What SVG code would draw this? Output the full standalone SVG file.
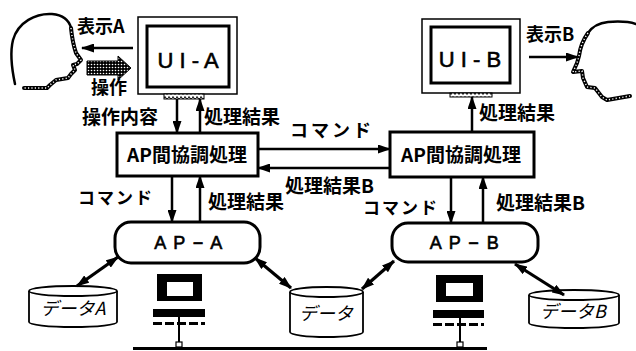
<svg xmlns="http://www.w3.org/2000/svg" width="636" height="351" viewBox="0 0 636 351">
  <style>
    .jp { font-family: "Noto Sans CJK JP", "Noto Sans", sans-serif; font-weight: bold; fill: #000; }
    .dat { font-family: "Noto Sans CJK JP", "Noto Sans", sans-serif; font-weight: normal; font-style: italic; fill: #000; }
    .lat { font-family: "Liberation Sans", Arial, sans-serif; fill: #000; stroke: #000; stroke-width: 0.6; }
    .ln { stroke: #000; stroke-width: 2.5; fill: none; }
    .fat { stroke: #000; stroke-width: 3.2; fill: none; }
    .box { fill: #fff; stroke: #000; stroke-width: 3; }
    .thin { fill: #fff; stroke: #000; stroke-width: 1.5; }
    .scr { fill: #fff; stroke: #000; stroke-width: 3; }
    .face { stroke: #000; stroke-width: 4; fill: none; stroke-linecap: round; stroke-linejoin: round; }
    .bead { stroke: #fff; stroke-width: 1.4; fill: none; stroke-dasharray: 1.2 2.2; }
    .back { stroke: #000; stroke-width: 2.5; fill: none; stroke-linecap: round; }
    .cyl { fill: #fff; stroke: #000; stroke-width: 1.8; }
  </style>
  <defs>
    <marker id="ah" markerUnits="userSpaceOnUse" markerWidth="13" markerHeight="9" refX="12" refY="4.5" orient="auto-start-reverse">
      <path d="M0,0 L13,4.5 L0,9 z" fill="#000"/>
    </marker>
    <pattern id="dots" width="3" height="3" patternUnits="userSpaceOnUse">
      <rect width="3" height="3" fill="#000"/>
      <circle cx="1.5" cy="1.5" r="0.8" fill="#fff"/>
    </pattern>
    <pattern id="wave" width="4" height="5" patternUnits="userSpaceOnUse">
      <rect width="4" height="5" fill="#fff"/>
      <path d="M0,3 Q1,0 2,3 T4,3" stroke="#000" stroke-width="1" fill="none"/>
    </pattern>
  </defs>

  <!-- user A -->
  <g id="user-a">
    <path class="back" d="M15,84 C12,70 10,52 13,40 C18,22 36,13 52,14 C63,15 69,20 71,28"/>
    <path class="face" d="M71,28 C72,38 74,47 76,53 L81,60 L77,64 L73,65 L75,70 L71,74 L68,78 L56,80 L50,85 L47,88 L24,88"/>
    <path class="bead" d="M71,28 C72,38 74,47 76,53 L81,60 L77,64 L73,65 L75,70 L71,74 L68,78 L56,80 L50,85 L47,88 L24,88"/>
  </g>

  <!-- user B -->
  <g id="user-b">
    <path class="back" d="M588,33 C592,27 598,23 608,22 C620,21 630,22 636,24"/>
    <path class="face" d="M588,33 C583,40 580,48 579,56 L577,63 L573,72 L582,71 L583,78 L587,87 L595,88 L602,97 L607,100 L630,96"/>
    <path class="bead" d="M588,33 C583,40 580,48 579,56 L577,63 L573,72 L582,71 L583,78 L587,87 L595,88 L602,97 L607,100 L630,96"/>
  </g>

  <!-- terminal UI-A -->
  <g id="ui-a">
    <rect class="thin" x="138" y="17" width="99" height="77"/>
    <rect class="scr" x="147" y="26" width="82" height="61"/>
    <rect x="164" y="94" width="40" height="5" fill="url(#wave)" stroke="#000" stroke-width="1"/>
    <text class="lat" x="188" y="68" font-size="22" text-anchor="middle">U I - A</text>
  </g>

  <!-- terminal UI-B -->
  <g id="ui-b">
    <rect class="thin" x="422" y="19" width="98" height="74"/>
    <rect class="scr" x="431" y="27" width="79" height="56"/>
    <rect x="450" y="93" width="42" height="4" fill="url(#wave)" stroke="#000" stroke-width="1"/>
    <text class="lat" x="470" y="67" font-size="22" text-anchor="middle">U I - B</text>
  </g>

  <!-- coordination boxes -->
  <g id="coord-a">
    <rect class="box" x="117" y="133" width="141" height="43"/>
    <text class="jp" x="187" y="162" font-size="19" text-anchor="middle">AP間協調処理</text>
  </g>
  <g id="coord-b">
    <rect class="box" x="390" y="132" width="144" height="45"/>
    <text class="jp" x="461" y="162" font-size="19" text-anchor="middle">AP間協調処理</text>
  </g>

  <!-- application processes -->
  <g id="ap-a">
    <rect class="box" x="115" y="222" width="145" height="41" rx="16"/>
    <text class="lat" x="189" y="249" font-size="18" text-anchor="middle" letter-spacing="1.5">A P − A</text>
  </g>
  <g id="ap-b">
    <rect class="box" x="392" y="223" width="146" height="39" rx="16"/>
    <text class="lat" x="465" y="249" font-size="18" text-anchor="middle" letter-spacing="1.5">A P − B</text>
  </g>

  <!-- data stores -->
  <g id="data-a">
    <path class="cyl" d="M29,291 L29,322 A44,5 0 0 0 117,322 L117,291"/>
    <ellipse class="cyl" cx="73" cy="291" rx="44" ry="5"/>
    <text class="dat" x="73" y="315" font-size="18" text-anchor="middle">データA</text>
  </g>
  <g id="data-shared">
    <path class="cyl" d="M290,292 L290,332 A36.5,5 0 0 0 363,332 L363,292"/>
    <ellipse class="cyl" cx="326.5" cy="292" rx="36.5" ry="5"/>
    <text class="dat" x="326" y="320" font-size="18" text-anchor="middle">データ</text>
  </g>
  <g id="data-b">
    <path class="cyl" d="M529,295 L529,323 A45,5 0 0 0 619,323 L619,295"/>
    <ellipse class="cyl" cx="574" cy="295" rx="45" ry="5"/>
    <text class="dat" x="573" y="318" font-size="18" text-anchor="middle">データB</text>
  </g>

  <!-- workstations on the network -->
  <g id="pc-a">
    <rect x="157" y="274" width="45" height="27" fill="#000"/>
    <rect x="167" y="282" width="26" height="14" fill="#fff"/>
    <rect x="153" y="309" width="52" height="8" fill="#000"/>
    <line x1="153" y1="323.5" x2="205" y2="323.5" stroke="#000" stroke-width="3" stroke-dasharray="9 3"/>
    <line x1="179" y1="317" x2="179" y2="343" stroke="#000" stroke-width="2"/>
    <rect x="176" y="342" width="6" height="5" fill="#fff" stroke="#000" stroke-width="1.2"/>
  </g>
  <g id="pc-b">
    <rect x="436" y="275" width="47" height="27" fill="#000"/>
    <rect x="446" y="283" width="27" height="13" fill="#fff"/>
    <rect x="433" y="310" width="51" height="8" fill="#000"/>
    <line x1="433" y1="324.5" x2="484" y2="324.5" stroke="#000" stroke-width="3" stroke-dasharray="9 3"/>
    <line x1="460" y1="318" x2="460" y2="343" stroke="#000" stroke-width="2"/>
    <rect x="457" y="342" width="6" height="5" fill="#fff" stroke="#000" stroke-width="1.2"/>
  </g>
  <g id="network">
    <line x1="133" y1="348.5" x2="487" y2="348.5" stroke="#000" stroke-width="3"/>
  </g>

  <!-- connectors -->
  <g id="connectors">
    <line class="ln" x1="133" y1="48" x2="82" y2="48" marker-end="url(#ah)"/>
    <path d="M87,61 L118,61 L118,56 L131,68 L118,80 L118,75 L87,75 z" fill="url(#dots)" stroke="#000" stroke-width="1"/>
    <line class="ln" x1="177" y1="99" x2="177" y2="133" marker-end="url(#ah)"/>
    <line class="ln" x1="200" y1="133" x2="200" y2="99" marker-end="url(#ah)"/>
    <line class="ln" x1="258" y1="149" x2="390" y2="149" marker-end="url(#ah)"/>
    <line class="ln" x1="390" y1="168" x2="258" y2="168" marker-end="url(#ah)"/>
    <line class="ln" x1="472" y1="132" x2="472" y2="97" marker-end="url(#ah)"/>
    <line class="ln" x1="529" y1="57" x2="578" y2="57" marker-end="url(#ah)"/>
    <line class="ln" x1="172" y1="176" x2="172" y2="222" marker-end="url(#ah)"/>
    <line class="ln" x1="200" y1="222" x2="200" y2="176" marker-end="url(#ah)"/>
    <line class="ln" x1="451" y1="177" x2="451" y2="223" marker-end="url(#ah)"/>
    <line class="ln" x1="483" y1="223" x2="483" y2="177" marker-end="url(#ah)"/>
    <line class="fat" x1="118" y1="257" x2="77" y2="286" marker-start="url(#ah)" marker-end="url(#ah)"/>
    <line class="fat" x1="255" y1="258" x2="291" y2="288" marker-start="url(#ah)" marker-end="url(#ah)"/>
    <line class="fat" x1="394" y1="261" x2="362" y2="289" marker-start="url(#ah)" marker-end="url(#ah)"/>
    <line class="fat" x1="515" y1="264" x2="564" y2="295" marker-start="url(#ah)" marker-end="url(#ah)"/>
  </g>

  <!-- labels -->
  <g id="labels">
    <text class="jp" x="77" y="33" font-size="18">表示A</text>
    <text class="jp" x="91" y="94" font-size="18">操作</text>
    <text class="jp" x="82" y="124" font-size="19">操作内容</text>
    <text class="jp" x="204" y="124" font-size="19">処理結果</text>
    <text class="jp" x="290" y="137" font-size="18" letter-spacing="3">コマンド</text>
    <text class="jp" x="285" y="193" font-size="19">処理結果B</text>
    <text class="jp" x="479" y="120" font-size="19">処理結果</text>
    <text class="jp" x="526" y="41" font-size="18">表示B</text>
    <text class="jp" x="78" y="204" font-size="17" letter-spacing="2">コマンド</text>
    <text class="jp" x="208" y="209" font-size="19">処理結果</text>
    <text class="jp" x="363" y="214" font-size="17" letter-spacing="2">コマンド</text>
    <text class="jp" x="496" y="210" font-size="19">処理結果B</text>
  </g>
</svg>
